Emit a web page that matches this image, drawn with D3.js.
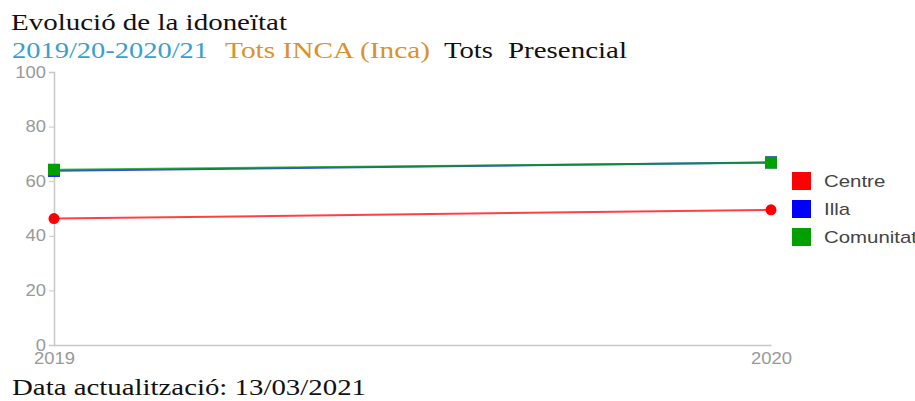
<!DOCTYPE html>
<html>
<head>
<meta charset="utf-8">
<script src="https://cdn.jsdelivr.net/npm/d3@7"></script>
<style>
  body { margin: 0; background: #fff; }
  svg { display: block; }
</style>
</head>
<body>
<div id="chart"></div>
<script>
// dades del gràfic
const years = [2019, 2020];
const seriesNames = ["Centre", "Illa", "Comunitat"];
const centreValues = [46.3, 49.5];
const illaValues = [63.8, 66.9];
const comunitatValues = [64.2, 66.8];
const yTicks = [0, 20, 40, 60, 80, 100];
const colors = ["#ff0000", "#0000ff", "#00a000"];
const subtitleParts = ["2019/20-2020/21", "Tots INCA (Inca)", "Tots", "Presencial"];

const width = 915;
const height = 401;
const margin = { top: 72, right: 144, bottom: 56, left: 54 };
const serif = "Liberation Serif, Times New Roman, serif";
const sans = "Liberation Sans, Arial, sans-serif";

const svg = d3.select("#chart").append("svg")
  .attr("width", width)
  .attr("height", height);

// estira el text en horitzontal (la referència està eixamplada)
function stretch(sel, k) {
  sel.each(function () {
    const w = this.getComputedTextLength();
    d3.select(this).attr("textLength", w * k).attr("lengthAdjust", "spacingAndGlyphs");
  });
}
function fitText(sel, w) {
  sel.attr("textLength", w).attr("lengthAdjust", "spacingAndGlyphs");
}

// títols
svg.append("text")
  .attr("x", 11)
  .attr("y", 30)
  .attr("font-family", serif)
  .attr("font-size", 23)
  .attr("fill", "#111")
  .text("Evolució de la idoneïtat")
  .call(fitText, 276);

const subX = [12, 225, 444, 508];
const subW = [196, 205, 49, 119];
const subColors = ["#3a9fd0", "#d9922e", "#111", "#111"];
subtitleParts.forEach((t, i) => {
  svg.append("text")
    .attr("x", subX[i])
    .attr("y", 58)
    .attr("font-family", serif)
    .attr("font-size", 23)
    .attr("fill", subColors[i])
    .text(t)
    .call(fitText, subW[i]);
});

const x = d3.scaleLinear()
  .domain(d3.extent(years))
  .range([margin.left, 771]);

const y = d3.scaleLinear()
  .domain([0, 100])
  .range([height - margin.bottom, margin.top]);

// eixos
const gy = svg.append("g")
  .attr("transform", `translate(${margin.left},0)`)
  .call(d3.axisLeft(y).tickValues(yTicks).tickSizeOuter(0).tickSize(5).tickPadding(3));
gy.select(".domain").attr("stroke", "#c8c8c8").attr("stroke-width", 1.5);
gy.selectAll(".tick line").attr("stroke", "#c8c8c8");
gy.selectAll(".tick text")
  .attr("fill", "#999")
  .attr("font-size", 16)
  .attr("font-family", sans)
  .call(stretch, 1.15);

const gx = svg.append("g")
  .attr("transform", `translate(0,${height - margin.bottom})`)
  .call(d3.axisBottom(x).tickValues(years).tickFormat(d3.format("d")).tickSize(0).tickSizeOuter(0).tickPadding(8));
gx.select(".domain").attr("stroke", "#c8c8c8").attr("stroke-width", 1.5);
gx.selectAll(".tick text")
  .attr("fill", "#999")
  .attr("font-size", 16)
  .attr("font-family", sans)
  .call(stretch, 1.15);

const series = [
  { name: seriesNames[0], values: centreValues, color: colors[0], shape: "circle" },
  { name: seriesNames[1], values: illaValues, color: colors[1], shape: "square" },
  { name: seriesNames[2], values: comunitatValues, color: colors[2], shape: "square" }
];

const line = d3.line()
  .x((d, i) => x(years[i]))
  .y(d => y(d));

series.forEach(s => {
  svg.append("path")
    .datum(s.values)
    .attr("fill", "none")
    .attr("stroke", s.color)
    .attr("stroke-opacity", 0.75)
    .attr("stroke-width", 2)
    .attr("d", line);

  if (s.shape === "circle") {
    svg.selectAll(null)
      .data(s.values)
      .join("circle")
      .attr("cx", (d, i) => x(years[i]))
      .attr("cy", d => y(d))
      .attr("r", 5.5)
      .attr("fill", s.color);
  } else {
    svg.selectAll(null)
      .data(s.values)
      .join("rect")
      .attr("x", (d, i) => x(years[i]) - 6)
      .attr("y", d => y(d) - 6)
      .attr("width", 12)
      .attr("height", 12)
      .attr("fill", s.color);
  }
});

// llegenda
const legend = svg.append("g")
  .attr("transform", "translate(792,172)");
series.forEach((s, i) => {
  const g = legend.append("g").attr("transform", `translate(0,${i * 28})`);
  g.append("rect")
    .attr("width", 19)
    .attr("height", 18)
    .attr("fill", s.color);
  g.append("text")
    .attr("x", 32)
    .attr("y", 15)
    .attr("font-size", 17)
    .attr("font-family", sans)
    .attr("fill", "#444")
    .text(s.name)
    .call(stretch, 1.2);
});

svg.append("text")
  .attr("x", 12)
  .attr("y", 395)
  .attr("font-family", serif)
  .attr("font-size", 23)
  .attr("fill", "#111")
  .text("Data actualització: 13/03/2021")
  .call(fitText, 354);
</script>
</body>
</html>
